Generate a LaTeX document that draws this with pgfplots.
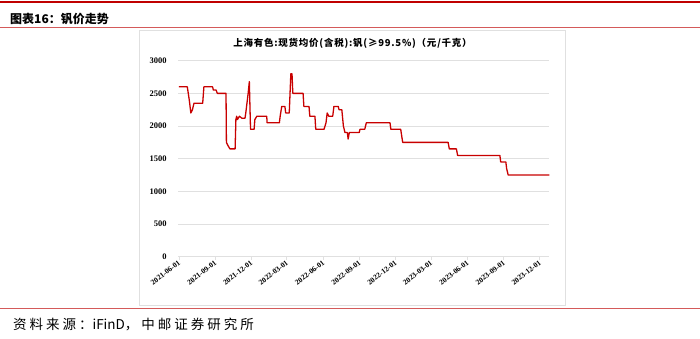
\documentclass[border=0pt]{standalone}
\usepackage{fontspec}
\usepackage{pgfplots}
\usepackage{pgfplotstable}
\pgfplotsset{compat=1.18}
\setmainfont{Liberation Serif}
\newfontfamily\cjk{Noto Sans CJK SC}
\definecolor{linered}{RGB}{200,0,0}
\definecolor{rulered}{RGB}{212,90,90}
\definecolor{topred}{RGB}{192,0,0}
\definecolor{gridgray}{RGB}{224,224,224}

% day offset from 2021-06-01, price (yuan/kg)
\pgfplotstableread{
day price
0 2600
21 2600
26 2400
30 2200
34 2250
38 2350
60 2350
63 2600
85 2600
87 2550
94 2550
97 2500
119 2500
120 1750
124 1700
129 1650
142 1650
144 2100
146 2150
148 2100
153 2150
159 2120
167 2120
169 2200
173 2400
175 2500
178 2680
181 1950
190 1950
192 2100
197 2150
222 2150
223 2050
254 2050
256 2150
260 2300
268 2300
270 2200
279 2200
283 2800
286 2800
288 2500
314 2500
316 2300
329 2300
331 2150
344 2150
346 1950
367 1950
372 2050
375 2200
379 2150
389 2150
392 2300
403 2300
405 2250
412 2250
416 2000
420 1900
426 1900
428 1800
431 1900
456 1900
458 1950
470 1950
474 2050
534 2050
536 1950
561 1950
566 1750
681 1750
684 1650
702 1650
705 1550
812 1550
814 1450
827 1450
829 1350
833 1250
937 1250
}\vanadium

\begin{document}
\begin{tikzpicture}[x=1pt,y=1pt]
\path[use as bounding box] (0,0) rectangle (700,339);
% header decorations
\fill[topred] (0,336.2) rectangle (700,338.4);
\draw[rulered, line width=0.9pt] (0,312) -- (700,312);
\node[anchor=west, inner sep=0pt] at (10,320) {\cjk\bfseries\fontsize{12}{14}\selectfont 图表16：钒价走势};
% chart frame
\draw[gridgray, line width=0.9pt] (139,34) rectangle (565,308.7);
\node[inner sep=0pt] at (352.5,296) {\cjk\bfseries\fontsize{9.5}{11}\selectfont\addfontfeature{LetterSpace=8}上海有色:现货均价(含税):钒(≥99.5\%)（元/千克）};
% footer
\draw[rulered, line width=0.9pt] (0,31) -- (700,31);
\node[anchor=west, inner sep=0pt] at (13,14) {\cjk\fontsize{13.5}{15}\selectfont{\addfontfeature{LetterSpace=22}资料来源：}iFinD{\addfontfeature{LetterSpace=22}，中邮证券研究所}};

\begin{axis}[
  at={(177.8pt,82.3pt)}, anchor=south west,
  scale only axis, width=371.5pt, height=196pt,
  xmin=-3, xmax=937, ymin=0, ymax=3000,
  axis line style={draw=none},
  ymajorgrids, major grid style={draw=gridgray, line width=0.9pt},
  ytick={0,500,...,3000},
  ytick style={draw=none},
  xtick={0,92,183,273,365,457,548,638,730,822,913},
  xticklabels={2021-06-01,2021-09-01,2021-12-01,2022-03-01,2022-06-01,2022-09-01,2022-12-01,2023-03-01,2023-06-01,2023-09-01,2023-12-01},
  xtick pos=left, tick align=outside, major tick length=3pt,
  xtick style={draw=gridgray, line width=0.9pt},
  xticklabel style={rotate=38, anchor=east, font=\bfseries\fontsize{7.5}{8}\selectfont, inner sep=1pt, yshift=-2pt},
  yticklabel style={font=\bfseries\fontsize{8.5}{9}\selectfont, inner sep=1pt, xshift=-7pt},
  /pgf/number format/assume math mode=true,
  /pgf/number format/1000 sep={},
  scaled y ticks=false,
  clip=false,
]
\addplot[linered, line width=1.3pt, line join=round, no marks] table[x=day, y=price] {\vanadium};
\end{axis}
\end{tikzpicture}
\end{document}
